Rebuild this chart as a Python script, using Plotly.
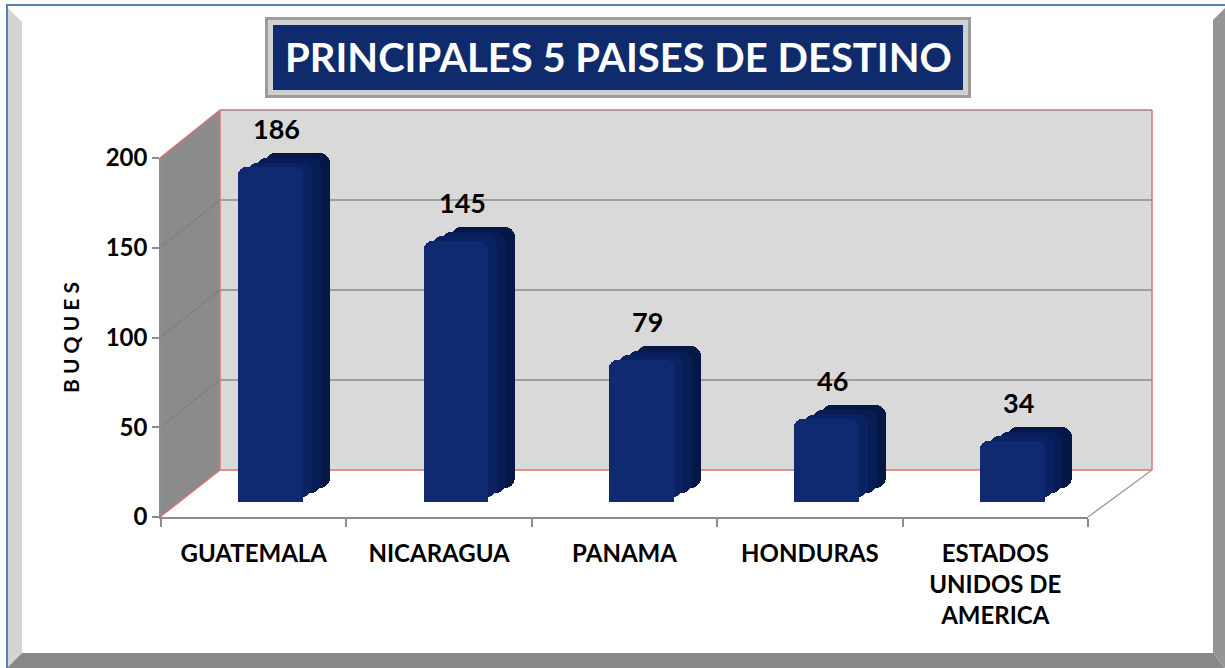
import plotly.graph_objects as go

# ---------------- data ----------------
categories = ["GUATEMALA", "NICARAGUA", "PANAMA", "HONDURAS", "ESTADOS<br>UNIDOS DE<br>AMERICA"]
buques = [186, 145, 79, 46, 34]
y_ticks = [0, 50, 100, 150, 200]
title_text = "PRINCIPALES 5 PAISES DE DESTINO"
y_title = "B U Q U E S"

W, H = 1225, 668
def fx(px):
    return px / W
def fy(py):
    return 1 - py / H

FONT = "Lato"
depth = 7.8  # 3D depth of the bars, in value units

# pixel geometry of the 3D box
X0_FRONT, X1_FRONT = 160, 1088      # front (axis) x range
Y0_FRONT, Y200_FRONT = 517, 158     # front y for 0 and 200
X0_BACK, X1_BACK = 220, 1152        # back wall x range
Y0_BACK, Y200_BACK = 470, 110       # back wall y for 0 and 200

def fy_front(v):
    return Y0_FRONT - v * (Y0_FRONT - Y200_FRONT) / 200
def fy_back(v):
    return Y0_BACK - v * (Y0_BACK - Y200_BACK) / 200

def poly(pts):
    d = "M " + " L ".join(f"{fx(x):.5f},{fy(y):.5f}" for x, y in pts) + " Z"
    return d

shapes = []
RED = "#e07070"
GRID = "#8a8a8a"

# outer frame bevel
shapes.append(dict(type="path", xref="paper", yref="paper", layer="below",
                   path=poly([(7, 7), (22, 22), (22, 653), (7, 668)]),
                   fillcolor="#d4d4d4", line=dict(width=0)))
shapes.append(dict(type="path", xref="paper", yref="paper", layer="below",
                   path=poly([(1213, 20), (1225, 8), (1225, 668), (1213, 653)]),
                   fillcolor="#959595", line=dict(width=0)))
shapes.append(dict(type="path", xref="paper", yref="paper", layer="below",
                   path=poly([(7, 668), (22, 653), (1213, 653), (1225, 668)]),
                   fillcolor="#888888", line=dict(width=0)))
shapes.append(dict(type="line", xref="paper", yref="paper", layer="below",
                   x0=fx(7), x1=fx(7), y0=fy(5), y1=fy(668),
                   line=dict(color="#4f81bd", width=2)))
shapes.append(dict(type="line", xref="paper", yref="paper", layer="below",
                   x0=fx(6), x1=fx(1225), y0=fy(5), y1=fy(5),
                   line=dict(color="#4f81bd", width=2)))

# title box
shapes.append(dict(type="rect", xref="paper", yref="paper", layer="below",
                   x0=fx(265), x1=fx(971), y0=fy(98), y1=fy(17),
                   fillcolor="#9c9c9c", line=dict(width=0)))
shapes.append(dict(type="rect", xref="paper", yref="paper", layer="below",
                   x0=fx(268), x1=fx(968), y0=fy(95), y1=fy(20),
                   fillcolor="#d0d0d0", line=dict(width=0)))
shapes.append(dict(type="rect", xref="paper", yref="paper", layer="below",
                   x0=fx(273), x1=fx(963), y0=fy(90), y1=fy(25),
                   fillcolor="#0f2b6b", line=dict(width=0)))

# back wall
shapes.append(dict(type="rect", xref="paper", yref="paper", layer="below",
                   x0=fx(X0_BACK), x1=fx(X1_BACK), y0=fy(Y0_BACK), y1=fy(Y200_BACK),
                   fillcolor="#d9d9d9", line=dict(width=0)))
# left wall
shapes.append(dict(type="path", xref="paper", yref="paper", layer="below",
                   path=poly([(X0_FRONT, Y200_FRONT), (X0_BACK, Y200_BACK),
                              (X0_BACK, Y0_BACK), (X0_FRONT, Y0_FRONT)]),
                   fillcolor="#8b8b8b", line=dict(width=0)))
# floor
shapes.append(dict(type="path", xref="paper", yref="paper", layer="below",
                   path=poly([(X0_FRONT, Y0_FRONT), (X0_BACK, Y0_BACK),
                              (X1_BACK, Y0_BACK), (X1_FRONT, Y0_FRONT)]),
                   fillcolor="#ffffff", line=dict(width=0)))
# gridlines on back and left walls
for v in y_ticks[1:-1]:
    shapes.append(dict(type="line", xref="paper", yref="paper", layer="below",
                       x0=fx(X0_BACK), x1=fx(X1_BACK), y0=fy(fy_back(v)), y1=fy(fy_back(v)),
                       line=dict(color=GRID, width=1.5)))
    shapes.append(dict(type="line", xref="paper", yref="paper", layer="below",
                       x0=fx(X0_FRONT), x1=fx(X0_BACK), y0=fy(fy_front(v)), y1=fy(fy_back(v)),
                       line=dict(color="#7a7a7a", width=1)))
# box edges
edges = [
    ((X0_BACK, Y200_BACK), (X1_BACK, Y200_BACK), "#a08080"),
    ((X1_BACK, Y200_BACK), (X1_BACK, Y0_BACK), RED),
    ((X0_BACK, Y0_BACK), (X1_BACK, Y0_BACK), RED),
    ((X0_BACK, Y200_BACK), (X0_BACK, Y0_BACK), RED),
    ((X0_FRONT, Y200_FRONT), (X0_BACK, Y200_BACK), RED),
    ((X0_FRONT, Y0_FRONT), (X0_BACK, Y0_BACK), RED),
    ((X0_FRONT + 1, Y200_FRONT), (X0_FRONT + 1, Y0_FRONT), RED),
    ((X1_BACK, Y0_BACK), (X1_FRONT, Y0_FRONT), "#a0a0a0"),
]
for (xa, ya), (xb, yb), c in edges:
    shapes.append(dict(type="line", xref="paper", yref="paper", layer="below",
                       x0=fx(xa), x1=fx(xb), y0=fy(ya), y1=fy(yb),
                       line=dict(color=c, width=1.5)))

fig = go.Figure()

# invisible trace that carries the visible category / value axes
fig.add_trace(go.Scatter(
    x=categories, y=buques, mode="markers",
    marker=dict(opacity=0), hoverinfo="skip", showlegend=False,
    xaxis="x", yaxis="y",
))

bar_width = 0.35
front_offset = -0.084
back_shift = 0.146  # horizontal depth shift, in category units

# layered depth (top + side) of the bars, back to front
depth_layers = [(1.0, "#051745"), (0.66, "#081d55"), (0.33, "#0b2262")]
for frac, col in depth_layers:
    fig.add_trace(go.Bar(
        x=categories, y=buques, base=[depth * frac] * len(buques),
        offset=front_offset + back_shift * frac, width=bar_width,
        marker=dict(color=col, cornerradius=10, line=dict(width=0)),
        xaxis="x2", yaxis="y2", hoverinfo="skip", showlegend=False,
    ))
# front face of the bars
fig.add_trace(go.Bar(
    x=categories, y=buques,
    offset=front_offset, width=bar_width,
    marker=dict(color="#0f2a70", cornerradius=8, line=dict(width=0)),
    xaxis="x2", yaxis="y2", showlegend=False, name="Buques",
))

annotations = []
for c, v in zip(categories, buques):
    annotations.append(dict(
        x=c, y=v + depth, xref="x2", yref="y2", text=str(v), showarrow=False,
        yanchor="bottom", xanchor="center", xshift=23, yshift=6,
        font=dict(family=FONT, size=27, color="black", weight="bold"),
    ))
annotations.append(dict(
    x=fx(618), y=fy(57), xref="paper", yref="paper", text=title_text, showarrow=False,
    xanchor="center", yanchor="middle",
    font=dict(family=FONT, size=40, color="white", weight="bold"),
))

fig.update_layout(
    width=W, height=H,
    margin=dict(l=0, r=0, t=0, b=0, autoexpand=False),
    paper_bgcolor="white",
    plot_bgcolor="rgba(0,0,0,0)",
    showlegend=False,
    bargap=0,
    shapes=shapes,
    annotations=annotations,
    xaxis=dict(
        domain=[fx(X0_FRONT + 1), fx(X1_FRONT)], anchor="y",
        type="category", categoryorder="array", categoryarray=categories,
        range=[-0.5, len(categories) - 0.5],
        showline=True, linecolor="#8c8c8c", linewidth=1.5,
        ticks="outside", ticklen=8, tickcolor="#8c8c8c", tickwidth=1.5,
        tickson="boundaries", showgrid=False, zeroline=False,
        ticklabelstandoff=14,
        tickfont=dict(family=FONT, size=24, color="black", weight="bold"),
    ),
    yaxis=dict(
        domain=[fy(Y0_FRONT), fy(Y200_FRONT)], anchor="x",
        range=[0, 200], tickvals=y_ticks,
        showline=True, linecolor="#8c8c8c", linewidth=1.5,
        ticks="outside", ticklen=7, tickcolor="#8c8c8c", tickwidth=1.5,
        showgrid=False, zeroline=False,
        tickfont=dict(family=FONT, size=24, color="black", weight="bold"),
        title=dict(text=y_title, standoff=20,
                   font=dict(family=FONT, size=21, color="black", weight="bold")),
    ),
    xaxis2=dict(
        domain=[fx(X0_FRONT + 1), fx(X1_FRONT)], anchor="y2",
        type="category", categoryorder="array", categoryarray=categories,
        range=[-0.5, len(categories) - 0.5], visible=False,
    ),
    yaxis2=dict(
        domain=[fy(502), fy(142)], anchor="x2",
        range=[0, 200], visible=False,
    ),
)

fig.write_html(
    "out.html",
    config={"displayModeBar": False},
    post_script="document.body.style.margin='0';document.body.style.overflow='hidden';",
)
